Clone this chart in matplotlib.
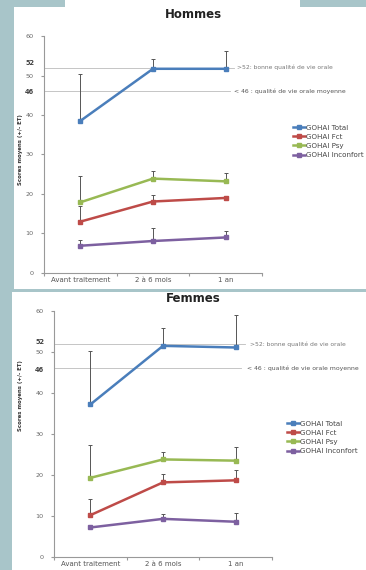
import numpy as np
import matplotlib
matplotlib.use("Agg")
import matplotlib.pyplot as plt
from matplotlib.patches import Rectangle

W, H = 366, 570

categories = ["Avant traitement", "2 à 6 mois", "1 an"]
series_names = ["GOHAI Total", "GOHAI Fct", "GOHAI Psy", "GOHAI Inconfort"]
colors = ["#4a7ebb", "#be4b48", "#98b954", "#7d60a0"]

# Hommes
h_total = [38.5, 51.7, 51.7]
h_fct = [13.0, 18.1, 19.0]
h_psy = [17.9, 23.9, 23.2]
h_inc = [6.9, 8.1, 9.0]
h_total_err = [12.0, 2.6, 4.4]
h_fct_err = [4.0, 1.7, 0.6]
h_psy_err = [6.7, 1.8, 2.1]
h_inc_err = [1.5, 3.4, 1.6]

# Femmes
f_total = [37.2, 51.5, 51.1]
f_fct = [10.2, 18.2, 18.7]
f_psy = [19.3, 23.8, 23.5]
f_inc = [7.2, 9.3, 8.6]
f_total_err = [13.1, 4.4, 8.0]
f_fct_err = [3.9, 2.0, 2.4]
f_psy_err = [8.1, 1.8, 3.3]
f_inc_err = [0.0, 1.1, 2.2]

ref_hi = 52
ref_lo = 46
ref_hi_txt = ">52: bonne qualité de vie orale"
ref_lo_txt = "< 46 : qualité de vie orale moyenne"
ylabel = "Scores moyens (+/- ET)"

fig = plt.figure(figsize=(W / 100, H / 100), dpi=100)
fig.patch.set_facecolor("#a8c5c9")


def px_rect(x0, y0, x1, y1):
    # rectangle given in pixel coords from top-left
    return Rectangle((x0 / W, 1 - y1 / H), (x1 - x0) / W, (y1 - y0) / H,
                     transform=fig.transFigure, facecolor="white",
                     edgecolor="none", zorder=-5)


fig.patches.append(px_rect(65, 0, 300, 7))
fig.patches.append(px_rect(14, 7, W, 289))
fig.patches.append(px_rect(12, 292, W, H))


def panel(rect, title, title_y, vals, errs, line_end, txt_x, lab52_y, lab46_y,
          leg_xy, ylab_y):
    ax = fig.add_axes(rect)
    ax.set_facecolor("none")
    x = np.arange(len(categories))
    for v, e, c, n in zip(vals, errs, colors, series_names):
        ax.errorbar(x, v, yerr=[np.zeros(len(e)), e], fmt="none",
                    ecolor="#555555", elinewidth=0.7, capsize=1.6,
                    capthick=0.7, zorder=2)
        ax.plot(x, v, color=c, lw=1.8, marker="s", ms=3.2,
                markerfacecolor=c, markeredgecolor=c, label=n, zorder=3)
    ax.plot([-0.5, line_end], [ref_hi, ref_hi], color="#bbbbbb", lw=0.6,
            zorder=1, clip_on=False)
    ax.plot([-0.5, line_end - 0.05], [ref_lo, ref_lo], color="#bbbbbb",
            lw=0.6, zorder=1, clip_on=False)
    ax.text(txt_x, ref_hi, ref_hi_txt, fontsize=4.3, color="#777777",
            va="center", ha="left", clip_on=False)
    ax.text(txt_x - 0.05, ref_lo, ref_lo_txt, fontsize=4.4, color="#555555",
            va="center", ha="left", clip_on=False)
    ax.text(-0.065, lab52_y, "52", transform=ax.get_yaxis_transform(),
            fontsize=4.8, fontweight="bold", color="#444444",
            ha="center", va="center")
    ax.text(-0.065, lab46_y, "46", transform=ax.get_yaxis_transform(),
            fontsize=4.8, fontweight="bold", color="#444444",
            ha="center", va="center")
    ax.set_xlim(-0.5, 2.5)
    ax.set_ylim(0, 60)
    ax.set_yticks([0, 10, 20, 30, 40, 50, 60])
    ax.set_xticks([-0.5, 0.5, 1.5, 2.5])
    ax.set_xticklabels([])
    ax.set_xticks(x, minor=True)
    ax.set_xticklabels(categories, minor=True)
    ax.tick_params(axis="x", which="minor", length=0, labelsize=5.0,
                   labelcolor="#555555", pad=3)
    ax.tick_params(axis="x", which="major", length=2.5, color="#999999")
    ax.tick_params(axis="y", length=2.5, color="#999999", labelsize=4.6,
                   labelcolor="#666666", pad=5)
    for s in ["top", "right"]:
        ax.spines[s].set_visible(False)
    for s in ["left", "bottom"]:
        ax.spines[s].set_color("#999999")
        ax.spines[s].set_linewidth(0.8)
    fig.text(0.5275, title_y, title, fontsize=8.5, fontweight="bold",
             color="#222222", ha="center", va="center")
    fig.text(21 / W, ylab_y, ylabel, fontsize=3.9, fontweight="bold",
             color="#333333", rotation=90, ha="center", va="center")
    ax.legend(loc="upper left", bbox_to_anchor=leg_xy,
              bbox_transform=fig.transFigure, frameon=False, fontsize=5.1,
              handlelength=1.8, handletextpad=0.15, labelspacing=0.45,
              borderpad=0, labelcolor="#444444")
    return ax


panel([44 / W, 1 - 273 / H, 218 / W, 237 / H], "Hommes", 1 - 14 / H,
      [h_total, h_fct, h_psy, h_inc],
      [h_total_err, h_fct_err, h_psy_err, h_inc_err],
      2.11, 2.16, 53.1, 45.7, (289 / W, 1 - 121 / H), 1 - 150 / H)

panel([54 / W, 1 - 557 / H, 218 / W, 246 / H], "Femmes", 1 - 298 / H,
      [f_total, f_fct, f_psy, f_inc],
      [f_total_err, f_fct_err, f_psy_err, f_inc_err],
      2.13, 2.2, 52.5, 45.7, (283 / W, 1 - 417 / H), 1 - 396 / H)

fig.savefig("out.png", dpi=100, facecolor=fig.get_facecolor())
